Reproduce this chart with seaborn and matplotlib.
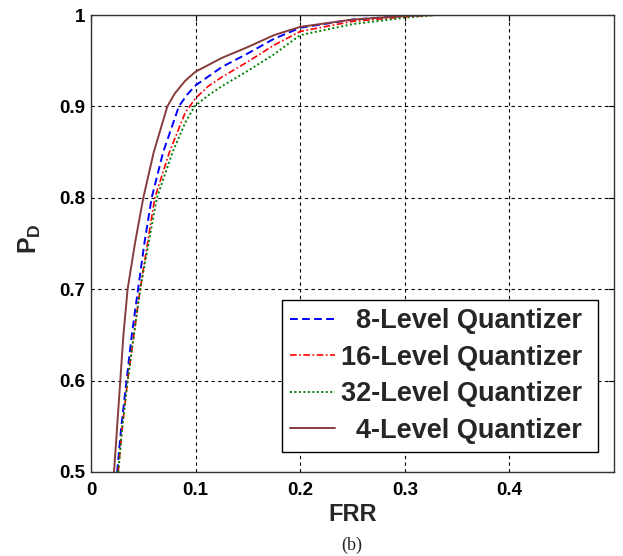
import matplotlib
matplotlib.use("Agg")
import matplotlib.pyplot as plt
import seaborn as sns
import pandas as pd

# ---- data ----
frr_4 = [0.022, 0.025, 0.028, 0.031, 0.035, 0.042, 0.050, 0.060, 0.073, 0.080, 0.090, 0.100, 0.125, 0.150, 0.175, 0.200, 0.250, 0.300, 0.330, 0.380]
pd_4  = [0.500, 0.550, 0.600, 0.650, 0.700, 0.750, 0.800, 0.850, 0.900, 0.914, 0.928, 0.938, 0.953, 0.965, 0.978, 0.987, 0.995, 0.999, 1.000, 1.000]

frr_8 = [0.025, 0.029, 0.034, 0.039, 0.045, 0.051, 0.058, 0.069, 0.084, 0.092, 0.100, 0.125, 0.150, 0.175, 0.200, 0.250, 0.300, 0.320]
pd_8  = [0.500, 0.550, 0.600, 0.650, 0.700, 0.750, 0.800, 0.850, 0.900, 0.913, 0.923, 0.943, 0.958, 0.974, 0.986, 0.995, 0.999, 1.000]

frr_16 = [0.026, 0.030, 0.035, 0.041, 0.047, 0.054, 0.061, 0.075, 0.090, 0.100, 0.112, 0.125, 0.150, 0.175, 0.200, 0.250, 0.300, 0.330]
pd_16  = [0.500, 0.550, 0.600, 0.650, 0.700, 0.750, 0.800, 0.850, 0.893, 0.909, 0.922, 0.932, 0.949, 0.967, 0.982, 0.993, 0.998, 1.000]

frr_32 = [0.026, 0.030, 0.035, 0.041, 0.047, 0.055, 0.063, 0.078, 0.090, 0.099, 0.112, 0.125, 0.150, 0.175, 0.200, 0.250, 0.300, 0.330]
pd_32  = [0.500, 0.550, 0.600, 0.650, 0.700, 0.750, 0.800, 0.850, 0.882, 0.900, 0.912, 0.922, 0.939, 0.957, 0.978, 0.990, 0.997, 1.000]

labels = ["  8-Level Quantizer ", "16-Level Quantizer ", "32-Level Quantizer ", "  4-Level Quantizer "]
x_ticks = [0, 0.1, 0.2, 0.3, 0.4]
x_ticklabels = ["0", "0.1", "0.2", "0.3", "0.4"]
y_ticks = [0.5, 0.6, 0.7, 0.8, 0.9, 1.0]
y_ticklabels = ["0.5", "0.6", "0.7", "0.8", "0.9", "1"]

sns.set_style("white")
plt.rcParams["font.family"] = ["Liberation Sans", "DejaVu Sans"]
plt.rcParams["font.weight"] = "bold"
plt.rcParams["mathtext.fontset"] = "custom"
plt.rcParams["mathtext.bf"] = "Liberation Sans:bold"
plt.rcParams["mathtext.rm"] = "Liberation Sans:bold"

fig = plt.figure(figsize=(6.23, 5.56), dpi=100)
ax = fig.add_axes([91/623, 1-472/556, 523/623, 457/556])

series = [
    (frr_8, pd_8, labels[0], "#0000ff", (0, (4, 2.2)), 1.4),
    (frr_16, pd_16, labels[1], "#ff0000", (0, (4, 1.5, 1, 1.5)), 1.2),
    (frr_32, pd_32, labels[2], "#008000", (0, (1, 1.3)), 1.4),
    (frr_4, pd_4, labels[3], "#873c3c", "-", 1.4),
]
for xs, ys, lab, col, ls, lw in series:
    df = pd.DataFrame({"FRR": xs, "PD": ys})
    sns.lineplot(data=df, x="FRR", y="PD", ax=ax, color=col, linestyle=ls,
                 linewidth=lw, label=lab, estimator=None, sort=False)

ax.set_xlim(0, 0.5)
ax.set_ylim(0.5, 1.0)
ax.set_xticks(x_ticks)
ax.set_xticklabels(x_ticklabels)
ax.set_yticks(y_ticks)
ax.set_yticklabels(y_ticklabels)
ax.tick_params(direction="in", length=4, width=0.8, labelsize=13.5,
               top=True, right=True, colors="k")
ax.tick_params(axis="x", pad=7)
ax.tick_params(axis="y", pad=4)
for lab in ax.get_xticklabels() + ax.get_yticklabels():
    lab.set_fontweight("bold")
ax.grid(True, color="k", linestyle=(0, (3, 3)), linewidth=0.8)
for sp in ax.spines.values():
    sp.set_color("#333333")
    sp.set_linewidth(1.0)

ax.set_xlabel("FRR", fontsize=17, fontweight="bold")
ax.xaxis.set_label_coords(0.5, -0.068)
ax.set_ylabel(r"P$_\mathbf{D}$", fontsize=18, fontweight="bold")
ax.yaxis.set_label_coords(-0.092, 0.51)

leg = ax.legend(loc="lower right", bbox_to_anchor=(0.9695, 0.0438), borderaxespad=0,
                fancybox=False, edgecolor="k", framealpha=1,
                handlelength=1.67, labelspacing=0.39, borderpad=0.3, handletextpad=0.22,
                prop={"weight": "bold", "size": 19.5})
leg.get_frame().set_linewidth(1.0)

fig.text(352/623, 1-545/556, "(b)", ha="center", va="center",
         fontsize=13, family=["Liberation Serif", "DejaVu Serif"], fontweight="normal")

fig.savefig("out.png", dpi=100)
